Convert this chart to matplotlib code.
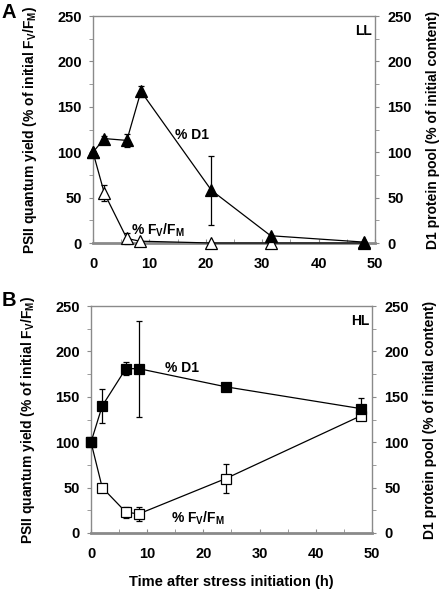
import matplotlib

matplotlib.use("Agg")

import matplotlib.pyplot as plt
from matplotlib.ticker import MultipleLocator

plt.rcParams["font.family"] = ["Liberation Sans", "DejaVu Sans"]
plt.rcParams["font.weight"] = "bold"
plt.rcParams["axes.labelweight"] = "bold"
plt.rcParams["mathtext.fontset"] = "custom"
plt.rcParams["mathtext.rm"] = "Liberation Sans:bold"
plt.rcParams["mathtext.default"] = "rm"

# Panel A (low light)
ll_d1_time = [0, 2, 6, 8.5, 21, 31.5, 48]
ll_d1 = [100, 115, 113, 167, 58, 8, 1]
ll_d1_err = [0, 3, 7, 6, 38, 0, 0]
ll_fvfm_time = [0, 2, 6, 8.3, 21, 31.5, 48]
ll_fvfm = [100, 55, 5, 2, 0, 0, 0]
ll_fvfm_err = [0, 9, 6, 0, 0, 0, 0]

# Panel B (high light)
hl_d1_time = [0, 2, 6.2, 8.5, 24, 48]
hl_d1 = [100, 140, 181, 181, 161, 137]
hl_d1_err = [0, 19, 7, 53, 0, 12]
hl_fvfm_time = [0, 2, 6.2, 8.5, 24, 48]
hl_fvfm = [100, 50, 23, 21, 60, 129]
hl_fvfm_err = [0, 0, 6, 8, 16, 5]

x_ticks = [0, 10, 20, 30, 40, 50]
y_ticks = [0, 50, 100, 150, 200, 250]

FVFM = "% F$_{V}$/F$_{M}$"
SPINE = "#8a8a8a"
TICK_SIZE = 10.5


def style_axes(ax):
    ax.set_xlim(0, 50)
    ax.set_ylim(0, 250)
    ax.set_xticks(x_ticks, [str(t) for t in x_ticks], fontweight="bold", fontsize=TICK_SIZE)
    ax.set_yticks(y_ticks, [str(t) for t in y_ticks], fontweight="bold", fontsize=TICK_SIZE)
    ax.xaxis.set_minor_locator(MultipleLocator(5))
    ax.yaxis.set_minor_locator(MultipleLocator(25))
    for spine in ax.spines.values():
        spine.set_color(SPINE)
        spine.set_linewidth(1.0)
    ax.spines["bottom"].set_linewidth(2.0)
    ax.tick_params(axis="x", which="both", direction="in", length=3, color=SPINE, pad=10)
    ax.tick_params(axis="y", which="both", direction="out", length=3, color=SPINE, pad=5)
    ax.set_ylabel("PSII quantum yield (% of initial F$_{V}$/F$_{M}$)",
                  fontsize=10, labelpad=13)
    right = ax.twinx()
    right.set_ylim(0, 250)
    right.set_yticks(y_ticks, [str(t) for t in y_ticks], fontweight="bold", fontsize=TICK_SIZE)
    right.yaxis.set_minor_locator(MultipleLocator(25))
    for spine in right.spines.values():
        spine.set_visible(False)
    right.tick_params(axis="y", which="both", direction="out", length=3, color=SPINE, pad=6)
    right.set_ylabel("D1 protein pool (% of initial content)", fontsize=10, labelpad=10)


def draw_series(ax, x, y, err, marker, face, size):
    ax.errorbar(x, y, yerr=err, color="black", lw=0.9, marker=marker, ms=size,
                mfc=face, mec="black", mew=0.9, ecolor="black", elinewidth=0.9,
                capsize=2.5, capthick=0.9, clip_on=False, zorder=3)


fig = plt.figure(figsize=(4.42, 5.92), dpi=100)
ax_a = fig.add_axes([93 / 442, 1 - 243 / 592, 282 / 442, 227 / 592])
ax_b = fig.add_axes([91 / 442, 1 - 533 / 592, 281 / 442, 227 / 592])

style_axes(ax_a)
draw_series(ax_a, ll_fvfm_time, ll_fvfm, ll_fvfm_err, "^", "white", 8)
draw_series(ax_a, ll_d1_time, ll_d1, ll_d1_err, "^", "black", 8)
ax_a.text(17.5, 119, "% D1", fontsize=10, ha="center", va="center")
ax_a.text(11.5, 14, FVFM, fontsize=10, ha="center", va="center")
ax_a.text(49.5, 234, "LL", fontsize=10, ha="right", va="center")

style_axes(ax_b)
draw_series(ax_b, hl_fvfm_time, hl_fvfm, hl_fvfm_err, "s", "white", 7.5)
draw_series(ax_b, hl_d1_time, hl_d1, hl_d1_err, "s", "black", 7.5)
ax_b.text(16.2, 182, "% D1", fontsize=10, ha="center", va="center")
ax_b.text(19, 16, FVFM, fontsize=10, ha="center", va="center")
ax_b.text(49.5, 234, "HL", fontsize=10, ha="right", va="center")
ax_b.set_xlabel("Time after stress initiation (h)", fontsize=10.5, labelpad=10)

fig.text(9 / 442, 1 - 12 / 592, "A", fontsize=14.5, ha="center", va="center")
fig.text(9 / 442, 1 - 301 / 592, "B", fontsize=14.5, ha="center", va="center")

fig.savefig("out.png", dpi=100)
plt.close(fig)
